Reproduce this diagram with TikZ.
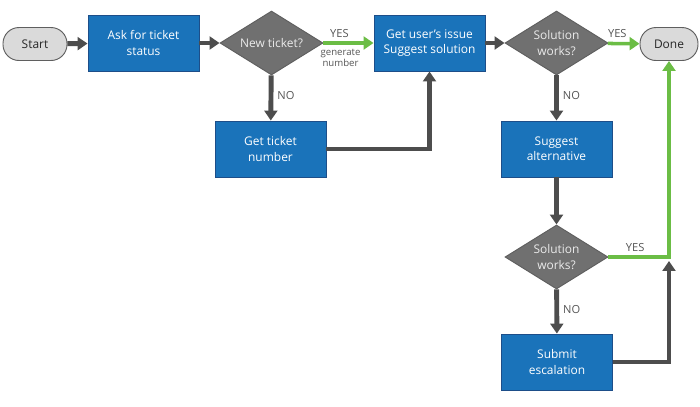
\documentclass[tikz,border=0pt]{standalone}
\usepackage{fontspec}
\setmainfont{Open Sans}
\usepackage{tikz}
\usetikzlibrary{arrows.meta,shapes.geometric}
\definecolor{boxblue}{HTML}{1A73BA}
\definecolor{boxedge}{HTML}{1D4E89}
\definecolor{decgrey}{HTML}{707070}
\definecolor{decedge}{HTML}{5F5F5F}
\definecolor{flowgrey}{HTML}{4D4D4D}
\definecolor{yesgreen}{HTML}{6BBD45}
\definecolor{capfill}{HTML}{DADADA}
\definecolor{labgrey}{HTML}{555555}
\tikzset{
  stepbox/.style={rectangle, draw=boxedge, fill=boxblue, line width=0.8pt,
    minimum width=3.33cm, minimum height=1.68cm, text=white, align=center,
    font=\fontsize{10.2}{13}\selectfont},
  decide/.style={diamond, draw=decedge, fill=decgrey, line width=0.8pt,
    aspect=1.6, inner sep=0pt, minimum width=3.09cm, minimum height=1.92cm,
    text=white!92!black, align=center, font=\fontsize{10.2}{13}\selectfont},
  terminal/.style={rectangle, rounded corners=0.48cm, draw=decedge, fill=capfill,
    line width=0.8pt, minimum height=0.99cm, text=black!85, font=\fontsize{10.2}{13}\selectfont},
  flow/.style={draw=flowgrey, line width=4.2pt},
  yes/.style={draw=yesgreen, line width=3pt},
  answer/.style={text=labgrey, font=\fontsize{9.5}{11}\selectfont},
  note/.style={text=labgrey, font=\fontsize{8.2}{9.5}\selectfont, align=center}
}
\begin{document}
\begin{tikzpicture}[x=0.03cm, y=-0.03cm,
    >={Triangle[length=8.5pt, width=11pt]}]
  \useasboundingbox (0, 0) rectangle (700, 406);
  \node [terminal, minimum width=1.92cm] (AA) at (35, 44) {Start};
  \node [stepbox] (AB) at (143.5, 43) {Ask for ticket\\status};
  \node [decide] (AC) at (271.5, 43) {New ticket?};
  \node [stepbox] (AD) at (429.5, 43) {Get user’s issue\\Suggest solution};
  \node [decide] (AE) at (556.5, 43) {Solution\\works?};
  \node [terminal, minimum width=1.74cm] (AF) at (669, 44) {Done};
  \node [stepbox] (BC) at (270.5, 149) {Get ticket\\number};
  \node [stepbox] (BE) at (556.5, 149) {Suggest\\alternative};
  \node [decide] (CE) at (556.5, 257) {Solution\\works?};
  \node [stepbox] (DE) at (557, 362) {Submit\\escalation};
  \coordinate (CF) at (669, 261);
  \draw [flow,->] (AA) -- (AB);
  \draw [flow,->] (AB) -- (AC);
  \draw [yes,->] (AC) -- node [answer, above, pos=0.32] {YES}
    node [note, below, pos=0.34] {generate\\number} (AD);
  \draw [flow,->] (AC) -- node [answer, right, pos=0.45] {NO} (BC);
  \draw [flow,->] (BC) -| (AD);
  \draw [flow,->] (AD) -- (AE);
  \draw [yes,->] (AE) -- node [answer, above, pos=0.3] {YES} (AF);
  \draw [flow,->] (AE) -- node [answer, right, pos=0.45] {NO} (BE);
  \draw [flow,->] (BE) -- (CE);
  \draw [yes,->] (CE) -| node [answer, above, pos=0.22] {YES} (AF);
  \draw [flow,->] (CE) -- node [answer, right, pos=0.45] {NO} (DE);
  \draw [flow,->] (DE) -| (CF);
\end{tikzpicture}
\end{document}
